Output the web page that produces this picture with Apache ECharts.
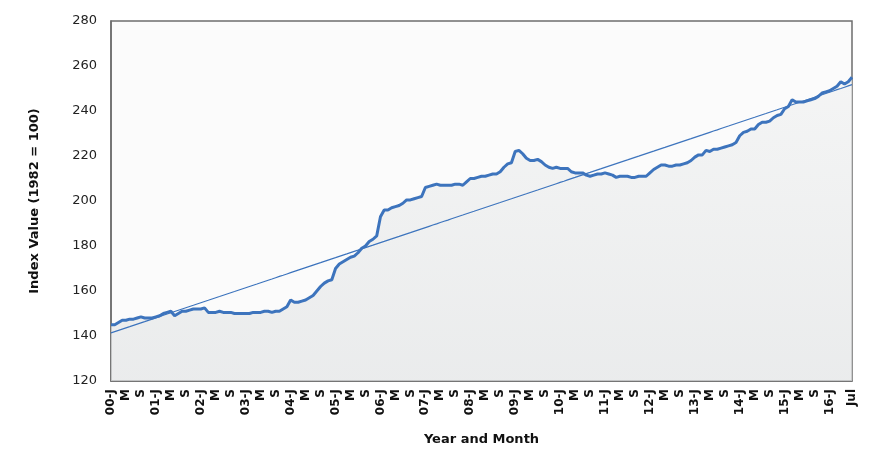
<!DOCTYPE html>
<html>
<head>
<meta charset="utf-8">
<script src="https://cdn.jsdelivr.net/npm/echarts@6/dist/echarts.min.js"></script>
<style>html,body{margin:0;padding:0;background:#fff}#chart{width:870px;height:466px}</style>
</head>
<body>
<div id="chart"></div>
<script>
var years = ["00","01","02","03","04","05","06","07","08","09","10","11","12","13","14","15","16"];
var monthLetters = ["J","F","M","A","M","J","J","A","S","O","N","D"];
// monthly index values, Jan 2000 .. Jul 2016
var v2000 = [145,145,146,147,147,147.5,147.5,148,148.5,148,148,148];
var v2001 = [148.5,149,150,150.5,151,149,150,151,151,151.5,152,152];
var v2002 = [152,152.5,150.5,150.5,150.5,151,150.5,150.5,150.5,150,150,150];
var v2003 = [150,150,150.5,150.5,150.5,151,151,150.5,151,151,152,153];
var v2004 = [156,155,155,155.5,156,157,158,160,162,163.5,164.5,165];
var v2005 = [170,172,173,174,175,175.5,177,179,180,182,183,184.5];
var v2006 = [193,196,196,197,197.5,198,199,200.5,200.5,201,201.5,202];
var v2007 = [206,206.5,207,207.5,207,207,207,207,207.5,207.5,207,208.5];
var v2008 = [210,210,210.5,211,211,211.5,212,212,213,215,216.5,217];
var v2009 = [222,222.5,221,219,218,218,218.5,217.5,216,215,214.5,215];
var v2010 = [214.5,214.5,214.5,213,212.5,212.5,212.5,211.5,211,211.5,212,212];
var v2011 = [212.5,212,211.5,210.5,211,211,211,210.5,210.5,211,211,211];
var v2012 = [212.5,214,215,216,216,215.5,215.5,216,216,216.5,217,218];
var v2013 = [219.5,220.5,220.5,222.5,222,223,223,223.5,224,224.5,225,226];
var v2014 = [229,230.5,231,232,232,234,235,235,235.5,237,238,238.5];
var v2015 = [241,242,245,244,244,244,244.5,245,245.5,246.5,248,248.5];
var v2016 = [249,250,251,253,252,253,255];

var values = [].concat(v2000,v2001,v2002,v2003,v2004,v2005,v2006,v2007,v2008,
    v2009,v2010,v2011,v2012,v2013,v2014,v2015,v2016);
var categories = [];
for (var i = 0; i < values.length; i++) {
    var m = i % 12, y = years[Math.floor(i / 12)];
    categories.push(m === 0 ? y + "-J" : monthLetters[m]);
}
categories[categories.length - 1] = "Jul";

// least-squares trend line
var n = values.length, sx = 0, sy = 0, sxx = 0, sxy = 0;
for (var i = 0; i < n; i++) { sx += i; sy += values[i]; sxx += i * i; sxy += i * values[i]; }
var slope = (n * sxy - sx * sy) / (n * sxx - sx * sx);
var icpt = (sy - slope * sx) / n;
var trend = values.map(function(v, i) { return +(icpt + slope * i).toFixed(2); });

var chart = echarts.init(document.getElementById("chart"));
chart.setOption({
    animation: false,
    grid: { left: 111, right: 18, top: 21, bottom: 85, show: true, borderColor: "#6e6e6e", borderWidth: 1.5, backgroundColor: "#fbfbfb" },
    xAxis: {
        type: "category", data: categories, boundaryGap: false,
        name: "Year and Month", nameLocation: "middle", nameGap: 52,
        nameTextStyle: { fontFamily: "DejaVu Sans", fontWeight: "bold", fontSize: 13, color: "#111" },
        axisLine: { lineStyle: { color: "#6e6e6e", width: 1.5 } },
        axisTick: { show: false },
        axisLabel: {
            rotate: 90, fontFamily: "DejaVu Sans", fontWeight: "bold", fontSize: 12, color: "#111", margin: 8,
            showMaxLabel: true, hideOverlap: false,
            interval: function(i) { return i % 4 === 0 || i === n - 1; }
        }
    },
    yAxis: {
        type: "value", min: 120, max: 280, interval: 20,
        name: "Index Value (1982 = 100)", nameLocation: "middle", nameGap: 70,
        nameTextStyle: { fontFamily: "DejaVu Sans", fontWeight: "bold", fontSize: 13, color: "#111" },
        axisLine: { show: true, lineStyle: { color: "#6e6e6e", width: 1.5 } },
        splitLine: { show: false },
        axisLabel: { fontFamily: "DejaVu Sans", fontSize: 13, color: "#222", margin: 14 }
    },
    series: [
        {
            type: "line", data: values, symbol: "none",
            lineStyle: { color: "#3d74bd", width: 3 },
            areaStyle: {
                origin: "start",
                color: new echarts.graphic.LinearGradient(0, 0, 0, 1, [
                    { offset: 0, color: "#f1f2f2" }, { offset: 1, color: "#e3e5e6" }
                ])
            },
            z: 3
        },
        {
            type: "line", data: trend, symbol: "none",
            lineStyle: { color: "#3d74bd", width: 1.2 }, z: 4
        }
    ]
});
</script>
</body>
</html>
